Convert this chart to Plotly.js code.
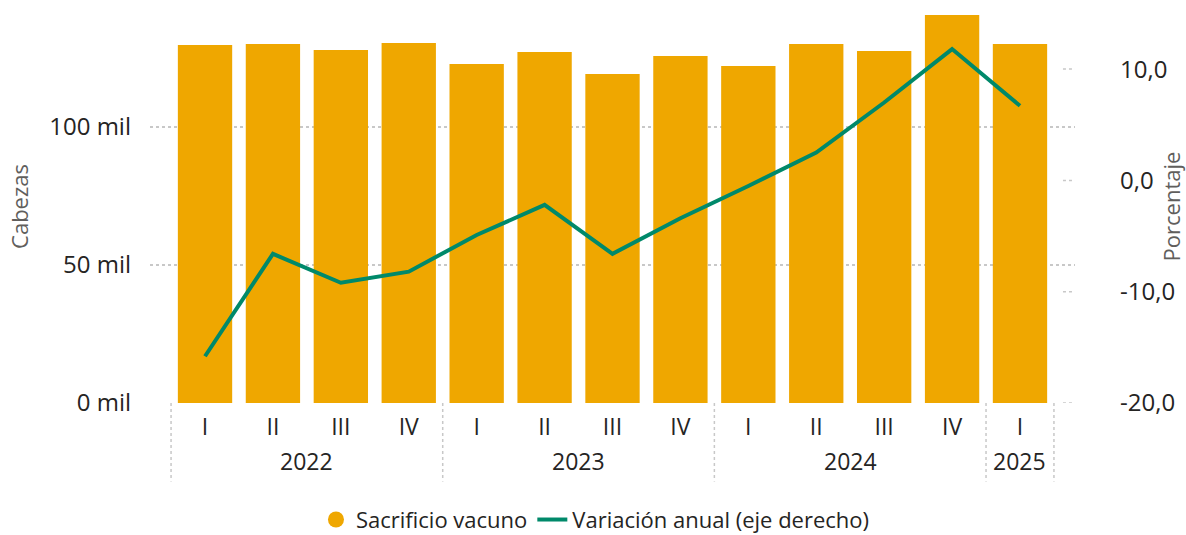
<!DOCTYPE html>
<html>
<head>
<meta charset="utf-8">
<script src="https://cdn.plot.ly/plotly-3.0.1.min.js"></script>
<style>
html,body{margin:0;padding:0;background:#fff;}
#chart{width:1186px;height:535px;}
</style>
</head>
<body>
<div id="chart"></div>
<script>
// Data
const years = ["2022","2022","2022","2022","2023","2023","2023","2023","2024","2024","2024","2024","2025"];
const quarters = ["I","II","III","IV","I","II","III","IV","I","II","III","IV","I"];
const sacrificio = [129700,130100,127900,130400,122800,127200,119200,125700,122100,130100,127500,140600,130100];
const variacion = [-15.8,-6.6,-9.2,-8.2,-4.9,-2.2,-6.6,-3.4,-0.5,2.5,7.0,11.8,6.7];
const leftTickVals = [0,50000,100000];
const leftTickText = ["0 mil","50 mil","100 mil"];
const rightTickVals = [-20,-10,0,10];
const rightTickText = ["-20,0","-10,0","0,0","10,0"];

const cats = years.map((y, i) => y + "-" + quarters[i]);

const barColor = "#EFA700";
const lineColor = "#00896A";
const font = "'Open Sans', 'Noto Sans', sans-serif";

const xRange = [-0.81, 12.81];
const toPaper = v => (v - xRange[0]) / (xRange[1] - xRange[0]);

const traces = [
  {
    type: "bar",
    x: cats,
    y: sacrificio,
    name: "Sacrificio vacuno",
    marker: {color: barColor},
    showlegend: false,
    hoverinfo: "y"
  },
  {
    type: "scatter",
    mode: "markers",
    x: [cats[0]],
    y: [null],
    name: "Sacrificio vacuno",
    marker: {color: barColor, symbol: "circle", size: 22},
    showlegend: true
  },
  {
    type: "scatter",
    mode: "lines",
    x: cats,
    y: variacion,
    yaxis: "y2",
    name: "Variación anual (eje derecho)",
    line: {color: lineColor, width: 4},
    showlegend: true
  }
];

// year groups
const groups = [];
years.forEach((y, i) => {
  const g = groups[groups.length - 1];
  if (g && g.year === y) g.end = i; else groups.push({year: y, start: i, end: i});
});

const shapes = [];
const annotations = [];
const dividers = [groups[0].start - 0.5];
groups.forEach(g => {
  dividers.push(g.end + 0.5);
  annotations.push({
    xref: "paper", yref: "paper",
    x: toPaper((g.start + g.end) / 2), y: -0.1476,
    xanchor: "center", yanchor: "middle",
    text: g.year, showarrow: false,
    font: {size: 23, color: "#252423"}
  });
});
dividers.forEach(v => {
  shapes.push({type:"line", xref:"paper", yref:"paper", x0:toPaper(v), x1:toPaper(v), y0:0, y1:-0.2,
    line:{color:"#C8C8C8", width:1.5, dash:"dot"}});
});
// right axis short dotted ticks
rightTickVals.forEach(v => {
  shapes.push({type:"line", xref:"paper", yref:"y2", x0:0.987, x1:1.0, y0:v, y1:v,
    line:{color:"#C8C8C8", width:1.5, dash:"dot"}});
});

const layout = {
  width: 1186, height: 535,
  margin: {l:150, r:111, t:10, b:132, autoexpand:false},
  paper_bgcolor: "#fff", plot_bgcolor: "#fff",
  font: {family: font, size: 22, color: "#252423"},
  bargap: 0.2,
  showlegend: true,
  legend: {orientation:"h", x:0.4816, xanchor:"center", y:-0.297, yanchor:"middle",
    font:{size:22, color:"#252423"}, itemwidth:30, tracegroupgap:0},
  xaxis: {
    type: "category",
    range: xRange,
    automargin: false,
    tickvals: cats, ticktext: quarters,
    showgrid: false, zeroline: false, showline: false,
    ticks: "",
    ticklabelstandoff: 8,
    tickfont: {size: 23, color: "#252423"}
  },
  yaxis: {
    range: [0, 142400],
    automargin: false,
    tickvals: leftTickVals, ticktext: leftTickText,
    showgrid: true, gridcolor: "#C8C8C8", griddash: "dot", gridwidth: 1.5,
    zeroline: false, showline: false, ticks: "",
    ticklabelstandoff: 18,
    tickfont: {size: 24, color: "#252423"},
    title: {text: "Cabezas", font: {size: 22, color: "#605E5C"}, standoff: 14}
  },
  yaxis2: {
    overlaying: "y", side: "right",
    automargin: false,
    range: [-20, 15.31],
    tickvals: rightTickVals, ticktext: rightTickText,
    showgrid: false, zeroline: false, showline: false, ticks: "",
    ticklabelstandoff: 44,
    tickfont: {size: 24, color: "#252423"},
    title: {text: "Porcentaje", font: {size: 22, color: "#605E5C"}, standoff: 0}
  },
  shapes: shapes,
  annotations: annotations
};

Plotly.newPlot("chart", traces, layout, {displayModeBar:false, staticPlot:true});
</script>
</body>
</html>
